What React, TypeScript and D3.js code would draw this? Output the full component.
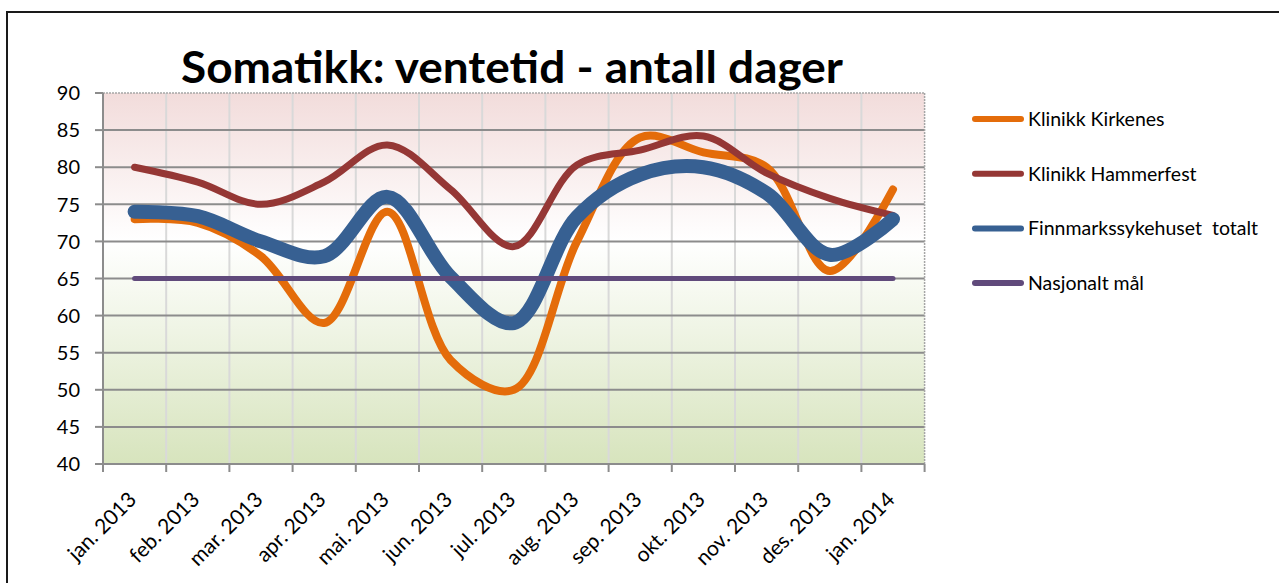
import React from 'react';
import * as d3 from 'd3';

const months = ['jan. 2013', 'feb. 2013', 'mar. 2013', 'apr. 2013', 'mai. 2013', 'jun. 2013', 'jul. 2013',
  'aug. 2013', 'sep. 2013', 'okt. 2013', 'nov. 2013', 'des. 2013', 'jan. 2014'];

const kirkenes = [73, 72.5, 68, 59, 74, 54, 50, 70, 84, 82, 80, 66, 77];
const hammerfest = [80, 78, 75, 78, 83, 77, 69.3, 80.3, 82.3, 84.2, 79.2, 75.8, 73.5];
const totalt = [74, 73.4, 70, 68, 76, 65.2, 59, 73.3, 79, 80, 76.5, 68.2, 73];
const nasjonalt = [65, 65, 65, 65, 65, 65, 65, 65, 65, 65, 65, 65, 65];

const yTicks = [40, 45, 50, 55, 60, 65, 70, 75, 80, 85, 90];

const series = [
  { name: 'Klinikk Kirkenes', values: kirkenes, color: '#E46C0A', width: 8 },
  { name: 'Klinikk Hammerfest', values: hammerfest, color: '#953735', width: 7 },
  { name: 'Finnmarkssykehuset  totalt', values: totalt, color: '#376092', width: 14 },
  { name: 'Nasjonalt mål', values: nasjonalt, color: '#604A7B', width: 5 },
];

const W = 1279, H = 583;
const left = 103, right = 924.6, top = 93, bottom = 464;
const font = 'Lato, "Open Sans", sans-serif';

export default function App() {
  const x = d3.scaleBand<string>().domain(months).range([left, right]).paddingInner(0).paddingOuter(0);
  const y = d3.scaleLinear().domain([40, 90]).range([bottom, top]);
  const cx = (m: string) => (x(m) as number) + x.bandwidth() / 2;

  const line = d3.line<number>()
    .x((_, i) => cx(months[i]))
    .y(d => y(d))
    .curve(d3.curveCatmullRom.alpha(0.5));

  const boundaries = months.map(m => x(m) as number).concat([right]);

  return (
    <svg width={W} height={H} style={{ position: 'absolute', left: 0, top: 0 }} fontFamily={font}>
      <defs>
        <linearGradient id="bg" x1="0" y1="0" x2="0" y2="1">
          <stop offset="0" stopColor="#F2DCDB" />
          <stop offset="0.4" stopColor="#FFFFFF" />
          <stop offset="1" stopColor="#D7E4BD" />
        </linearGradient>
      </defs>
      <rect x={0} y={0} width={W} height={H} fill="#fff" />
      <rect x={7} y={12} width={W + 20} height={H + 20} fill="none" stroke="#1a1a1a" strokeWidth={2} />

      <text x={512} y={83} textAnchor="middle" fontSize={43} fontWeight="bold" fill="#000"
        textLength={662} lengthAdjust="spacingAndGlyphs">
        Somatikk: ventetid - antall dager
      </text>

      <rect x={left} y={top} width={right - left} height={bottom - top} fill="url(#bg)" />

      {boundaries.slice(1, -1).map((b, i) => (
        <line key={'v' + i} x1={b} x2={b} y1={top} y2={bottom} stroke="#D9D9D9" strokeWidth={2} />
      ))}
      {yTicks.slice(1, -1).map(t => (
        <line key={'h' + t} x1={left} x2={right} y1={y(t)} y2={y(t)} stroke="#8C8C8C" strokeWidth={2} />
      ))}
      <line x1={left} x2={right} y1={top} y2={top} stroke="#A6A6A6" strokeWidth={1.5} strokeDasharray="2,1" />
      <line x1={right} x2={right} y1={top} y2={bottom} stroke="#A6A6A6" strokeWidth={1.5} strokeDasharray="2,1" />

      {/* axes */}
      <line x1={left} x2={left} y1={top} y2={bottom + 1} stroke="#8C8C8C" strokeWidth={2} />
      <line x1={left} x2={right} y1={bottom} y2={bottom} stroke="#8C8C8C" strokeWidth={2} />
      {yTicks.map(t => (
        <g key={'yt' + t}>
          <line x1={left - 8} x2={left} y1={y(t)} y2={y(t)} stroke="#8C8C8C" strokeWidth={2} />
          <text x={80} y={y(t)} dy="0.36em" textAnchor="end" fontSize={20} fill="#000">{t}</text>
        </g>
      ))}
      {boundaries.map((b, i) => (
        <line key={'xt' + i} x1={b} x2={b} y1={bottom} y2={bottom + 8} stroke="#8C8C8C" strokeWidth={2} />
      ))}
      {months.map(m => (
        <text key={m} transform={`translate(${cx(m) + 3},${bottom + 37}) rotate(-45)`} textAnchor="end"
          fontSize={21} fill="#000">{m}</text>
      ))}

      {series.map(s => (
        <path key={s.name} d={line(s.values) || ''} fill="none" stroke={s.color} strokeWidth={s.width}
          strokeLinecap="round" strokeLinejoin="round" />
      ))}

      {series.map((s, i) => (
        <g key={'lg' + i} transform={`translate(0,${119 + i * 54.7})`}>
          <line x1={975} x2={1021} y1={0} y2={0} stroke={s.color} strokeWidth={6} strokeLinecap="round" />
          <text x={1028} y={0} dy="0.36em" fontSize={19.5} fill="#000" style={{ whiteSpace: 'pre' }}>{s.name}</text>
        </g>
      ))}
    </svg>
  );
}
